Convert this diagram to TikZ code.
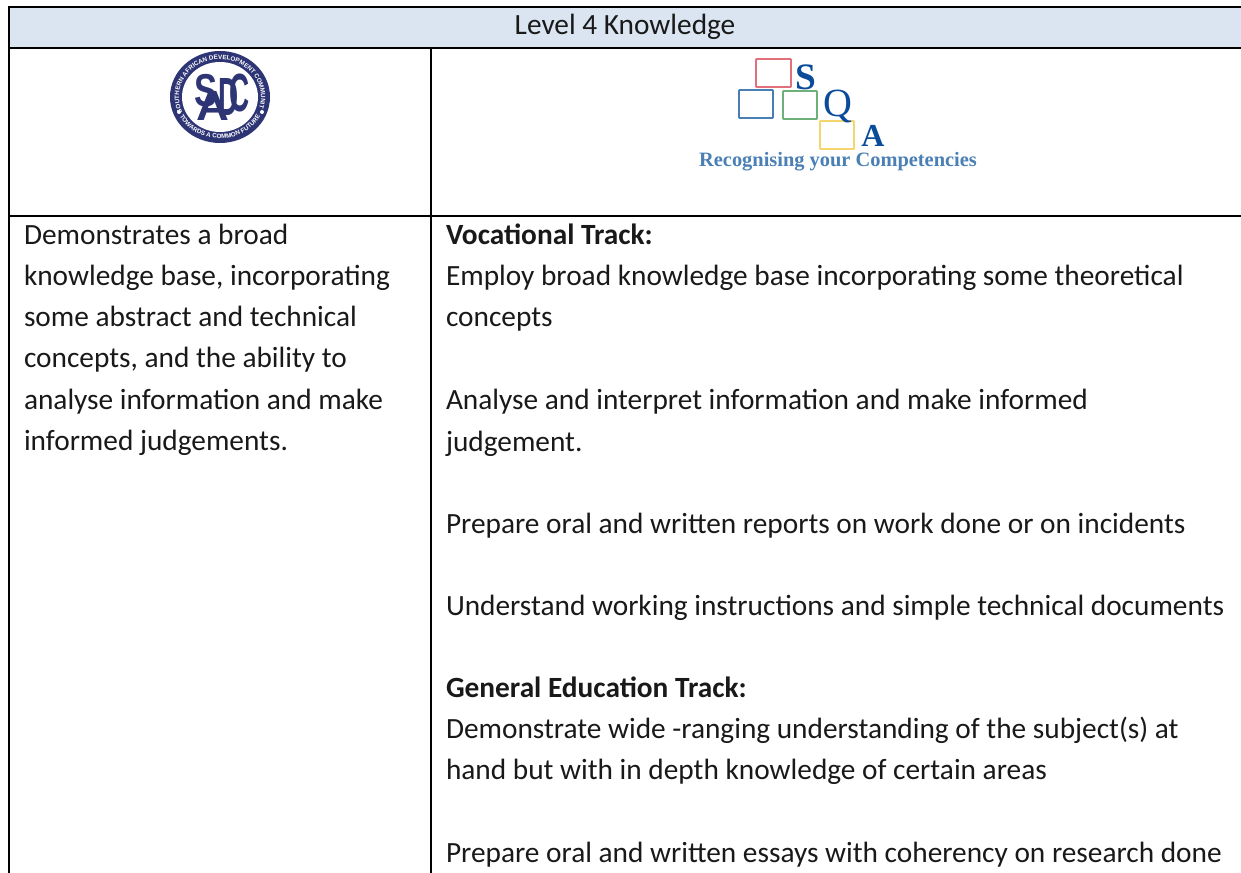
\documentclass[tikz,border=0pt]{standalone}
\usepackage{fontspec}
\setmainfont{Carlito}
\newfontfamily\logoserif{Liberation Serif}
\newfontfamily\badgefont{Liberation Sans}
\usetikzlibrary{decorations.text}
\definecolor{headfill}{HTML}{DBE5F1}
\definecolor{sadcblue}{HTML}{2E3575}
\definecolor{sqaS}{HTML}{0B4C9A}
\definecolor{sqatag}{HTML}{4A80B5}
\definecolor{sqared}{HTML}{E2707A}
\definecolor{sqablue}{HTML}{4A7FB5}
\definecolor{sqagreen}{HTML}{6DB07A}
\definecolor{sqayellow}{HTML}{F5D66E}
\tikzset{
  x=0.75pt,y=-0.75pt,
  rule/.style={line width=1.6pt,black},
  celltext/.style={anchor=base west,inner sep=0pt,outer sep=0pt,text=black!90,font=\fontsize{22}{26}\selectfont},
  logobox/.style={line width=1.3pt,rounded corners=0.5pt},
  sqaletter/.style={inner sep=0pt,text=sqaS,font=\logoserif\bfseries\fontsize{28}{28}\selectfont},
  sadcletter/.style={inner sep=0pt,text=sadcblue,font=\badgefont\bfseries\fontsize{36}{36}\selectfont},
}
\begin{document}
\begin{tikzpicture}
\useasboundingbox (0,0) rectangle (1241,873);
\fill[white] (0,0) rectangle (1241,873);
\fill[headfill] (9,7) rectangle (1241,48);
\draw[rule] (8,7) -- (1241,7);
\draw[rule] (8,48) -- (1241,48);
\draw[rule] (8,216) -- (1241,216);
\draw[rule] (9,6) -- (9,873);
\draw[rule] (431,48) -- (431,873);
\node[anchor=base,inner sep=0pt,text=black!90,font=\fontsize{22}{26}\selectfont] (title) at (625,35) {Level 4 Knowledge};
% SADC logo
\fill[sadcblue] (220,97) ellipse (50 and 46);
\fill[white] (220,97) ellipse (38 and 35);
\fill[white] (179,112) circle (2);
\fill[white] (262,112) circle (2);
\begin{scope}[shift={(220,97)},x=0.75pt,y=0.75pt]
\path[postaction={decorate,decoration={text along path,text align=center,text color=white,
  text={|\badgefont\bfseries\fontsize{4.7}{5}\selectfont|SOUTHERN AFRICAN DEVELOPMENT COMMUNITY}}}]
  (195:41 and 37.5) arc (195:-15:41 and 37.5);
\path[postaction={decorate,decoration={text along path,text align=center,text color=white,
  text={|\badgefont\bfseries\fontsize{4.7}{5}\selectfont|TOWARDS A COMMON FUTURE}}}]
  (210:45.5 and 41.5) arc (210:330:45.5 and 41.5);
\end{scope}
\node[sadcletter,xscale=0.72,yscale=0.96] (sadcS) at (206,91) {S};
\node[sadcletter,xscale=0.95,yscale=0.88] (sadcA) at (213,106) {A};
\node[sadcletter,xscale=0.58,yscale=1.12] (sadcD) at (229,97) {D};
\node[sadcletter,xscale=0.58,yscale=1.12] (sadcC) at (240,93) {C};
% SQA logo
\draw[logobox,sqared] (756,59) rectangle (791,87);
\draw[logobox,sqablue] (739,90) rectangle (773,118);
\draw[logobox,sqagreen] (783,91) rectangle (817,119);
\draw[logobox,sqayellow] (820,121) rectangle (854,149);
\node[sqaletter] (s) at (806,77) {S};
\node[sqaletter,font=\logoserif\fontsize{30}{30}\selectfont] (q) at (838,107) {Q};
\node[sqaletter,font=\logoserif\bfseries\fontsize{24}{24}\selectfont] (a) at (873,136) {A};
\node[anchor=base,inner sep=0pt,text=sqatag,font=\logoserif\bfseries\fontsize{15.3}{16}\selectfont] (tag) at (838,167) {Recognising your Competencies};
% left cell
\node[celltext] (l1) at (24,245) {Demonstrates a broad};
\node[celltext] (l2) at (24,286) {knowledge base, incorporating};
\node[celltext] (l3) at (24,327) {some abstract and technical};
\node[celltext] (l4) at (24,368) {concepts, and the ability to};
\node[celltext] (l5) at (24,409) {analyse information and make};
\node[celltext] (l6) at (24,450) {informed judgements.};
% right cell
\node[celltext] (r1) at (446,245) {\textbf{Vocational Track:}};
\node[celltext] (r2) at (446,286) {Employ broad knowledge base incorporating some theoretical};
\node[celltext] (r3) at (446,327) {concepts};
\node[celltext] (r4) at (446,409) {Analyse and interpret information and make informed};
\node[celltext] (r5) at (446,451) {judgement.};
\node[celltext] (r6) at (446,533) {Prepare oral and written reports on work done or on incidents};
\node[celltext] (r7) at (446,615) {Understand working instructions and simple technical documents};
\node[celltext] (r8) at (446,697) {\textbf{General Education Track:}};
\node[celltext] (r9) at (446,738) {Demonstrate wide -ranging understanding of the subject(s) at};
\node[celltext] (r10) at (446,779) {hand but with in depth knowledge of certain areas};
\node[celltext] (r11) at (446,862) {Prepare oral and written essays with coherency on research done};
\end{tikzpicture}
\end{document}
